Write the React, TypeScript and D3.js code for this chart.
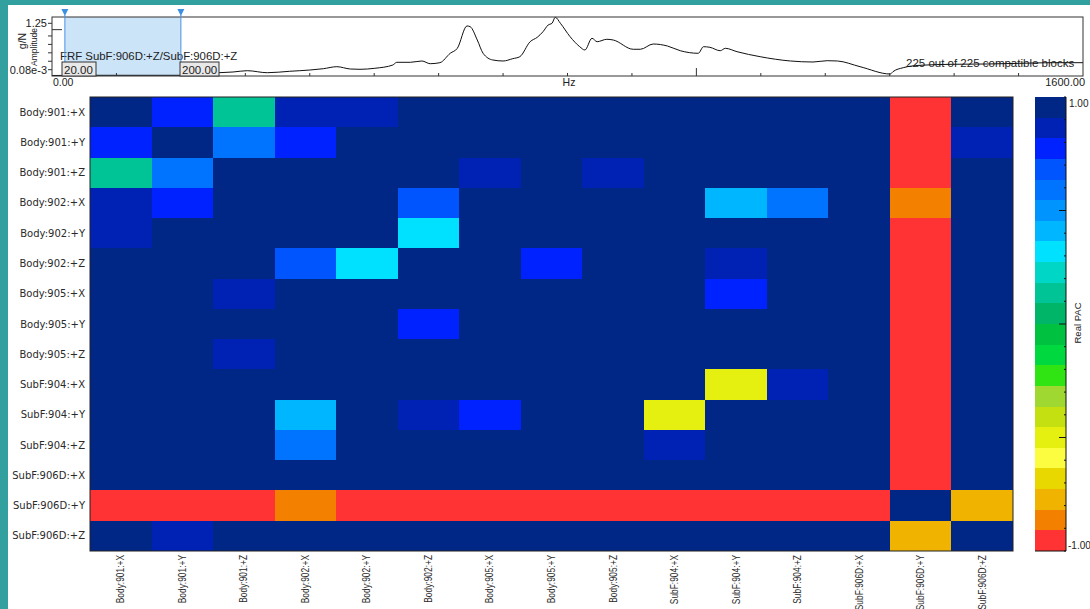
import React from 'react';
import * as d3 from 'd3';

// ---- data ----
const rowLabels = [
  'Body:901:+X', 'Body:901:+Y', 'Body:901:+Z',
  'Body:902:+X', 'Body:902:+Y', 'Body:902:+Z',
  'Body:905:+X', 'Body:905:+Y', 'Body:905:+Z',
  'SubF:904:+X', 'SubF:904:+Y', 'SubF:904:+Z',
  'SubF:906D:+X', 'SubF:906D:+Y', 'SubF:906D:+Z',
];
const colLabels = rowLabels;

// Real PAC values read from the cells
const N = 0.97, D = 0.86, B = 0.77, B4 = 0.66, B5 = 0.58, C7 = 0.38, C8 = 0.31, T = 0.14;
const Y = -0.5, G = -0.79, O = -0.88, R = -0.97;
const pacValues = [
  [N, B, T, D, D, N, N, N, N, N, N, N, N, R, N],
  [B, N, B5, B, N, N, N, N, N, N, N, N, N, R, D],
  [T, B5, N, N, N, N, D, N, D, N, N, N, N, R, N],
  [D, B, N, N, N, B4, N, N, N, N, C7, B5, N, O, N],
  [D, N, N, N, N, C8, N, N, N, N, N, N, N, R, N],
  [N, N, N, B4, C8, N, N, B, N, N, D, N, N, R, N],
  [N, N, D, N, N, N, N, N, N, N, B, N, N, R, N],
  [N, N, N, N, N, B, N, N, N, N, N, N, N, R, N],
  [N, N, D, N, N, N, N, N, N, N, N, N, N, R, N],
  [N, N, N, N, N, N, N, N, N, N, Y, D, N, R, N],
  [N, N, N, C7, N, D, B, N, N, Y, N, N, N, R, N],
  [N, N, N, B5, N, N, N, N, N, D, N, N, N, R, N],
  [N, N, N, N, N, N, N, N, N, N, N, N, N, R, N],
  [R, R, R, O, R, R, R, R, R, R, R, R, R, N, G],
  [N, D, N, N, N, N, N, N, N, N, N, N, N, G, N],
];

// colour bands, from +1 (top) down to -1
const bandColors = [
  '#002785', '#0022b4', '#0022ff', '#0055ff', '#0074ff', '#0094ff', '#00b6ff', '#00e0ff',
  '#00d6c6', '#00c496', '#00b468', '#00c240', '#00d840', '#30e414', '#9ed830', '#c4e010',
  '#e6f010', '#fcfc40', '#e8d800', '#f0b400', '#f48000', '#ff3333',
];

// FRF trace (Hz, amplitude)
const frfFreq = [0, 68, 199, 259, 281, 303, 334, 369, 400, 421, 442, 463, 478, 501, 529, 535, 556, 574, 587,
  602, 618, 629, 644, 649, 660, 669, 684, 700, 715, 726, 742, 753, 762, 770, 776, 781, 789, 804, 819, 827,
  838, 846, 861, 871, 902, 913, 933, 955, 975, 1003, 1011, 1021, 1037, 1045, 1063, 1099, 1146, 1181, 1203,
  1219, 1254, 1301, 1305, 1321, 1347, 1398, 1451, 1502, 1553, 1600];
const frfAmp = [0.012, 0.017, 0.017, 0.078, 0.095, 0.126, 0.078, 0.112, 0.142, 0.173, 0.221, 0.166, 0.159,
  0.183, 0.261, 0.325, 0.325, 0.356, 0.292, 0.316, 0.539, 0.657, 1.187, 1.17, 0.854, 0.539, 0.38, 0.356,
  0.411, 0.458, 0.814, 0.918, 1.051, 1.21, 1.251, 1.393, 1.251, 0.933, 0.695, 0.617, 0.895, 0.814, 0.871,
  0.854, 0.634, 0.634, 0.759, 0.712, 0.6, 0.539, 0.695, 0.681, 0.6, 0.657, 0.577, 0.458, 0.356, 0.332,
  0.363, 0.356, 0.221, 0.047, 0.102, 0.197, 0.254, 0.278, 0.285, 0.301, 0.316, 0.316];
const freqTicks = d3.range(100, 1600, 100);
const ampMinorTicks = [1.25, 0.95, 0.75, 0.55, 0.35, 0.15];
const cursorFreqs = [20, 200];
const cbTicks = d3.range(-10, 11).map(d => d / 10);

const W = 1090;
const H = 609;
const sans = 'Liberation Sans, Arial, sans-serif';

export default function App() {
  // top spectrum panel
  const fx = d3.scaleLinear().domain([0, 1600]).range([52, 1083]);
  const fy = d3.scaleLinear().domain([0, 1.4]).range([76, 17]);
  const line = d3.line<number>()
    .x((_, i) => fx(frfFreq[i]))
    .y(d => fy(d))
    .curve(d3.curveMonotoneX);

  // heatmap
  const x = d3.scaleBand().domain(colLabels).range([90, 1013]);
  const y = d3.scaleBand().domain(rowLabels).range([97, 551]);
  const color = d3.scaleQuantize<string>().domain([-1, 1]).range([...bandColors].reverse());

  // colour bar
  const cb = d3.scaleLinear().domain([1, -1]).range([97, 551]);
  const step = 2 / bandColors.length;

  return (
    <svg width={W} height={H} style={{ position: 'absolute', left: 0, top: 0 }} fontFamily={sans}>
      <rect x={0} y={0} width={W} height={H} fill="#31a09e" />
      <rect x={8} y={5} width={W - 8} height={H - 5} fill="#fff" />

      {/* spectrum */}
      <rect x={fx(cursorFreqs[0])} y={17} width={fx(cursorFreqs[1]) - fx(cursorFreqs[0])} height={59} fill="#cce4f8" />
      <text x={906} y={67} fontSize={11.5} fill="#222">225 out of 225 compatible blocks</text>
      <path d={line(frfAmp) || ''} fill="none" stroke="#111" strokeWidth={1} />
      <rect x={52} y={17} width={1031} height={59} fill="none" stroke="#333" strokeWidth={1} />
      {freqTicks.map(f => (
        <line key={f} x1={fx(f)} x2={fx(f)} y1={76} y2={f === 1000 ? 68 : 73} stroke="#333" />
      ))}
      {ampMinorTicks.map(a => (
        <line key={a} x1={48} x2={52} y1={fy(a)} y2={fy(a)} stroke="#333" />
      ))}
      <line x1={52} x2={62} y1={fy(1.1)} y2={fy(1.1)} stroke="#333" />
      <text x={47} y={27} fontSize={11} textAnchor="end" fill="#222">1.25</text>
      <text x={47} y={74} fontSize={11} textAnchor="end" fill="#222">0.08e-3</text>
      <text transform="translate(26,41) rotate(-90)" fontSize={10.5} textAnchor="middle" fill="#222">g/N</text>
      <text transform="translate(37,47) rotate(-90)" fontSize={8.5} textAnchor="middle" fill="#222">Amplitude</text>
      <text x={60} y={60} fontSize={11.4} fill="#222">FRF SubF:906D:+Z/SubF:906D:+Z</text>
      {cursorFreqs.map(f => (
        <g key={f}>
          <line x1={fx(f)} x2={fx(f)} y1={15} y2={76} stroke="#4a90e2" strokeWidth={1} />
          <path d={`M${fx(f) - 3.5},9 L${fx(f) + 3.5},9 L${fx(f)},16 Z`} fill="#3d8fe0" />
        </g>
      ))}
      <rect x={62} y={62} width={34} height={14} fill="#e8e8e8" stroke="#333" />
      <text x={64} y={74} fontSize={11.5} fill="#222">20.00</text>
      <rect x={180} y={62} width={39} height={14} fill="#e8e8e8" stroke="#333" />
      <text x={182} y={74} fontSize={11.5} fill="#222">200.00</text>
      <text x={53} y={86} fontSize={10.5} fill="#222">0.00</text>
      <text x={569} y={86} fontSize={10.5} textAnchor="middle" fill="#222">Hz</text>
      <text x={1085} y={86} fontSize={11} textAnchor="end" fill="#222">1600.00</text>

      {/* heatmap cells */}
      <g shapeRendering="crispEdges">
        {pacValues.map((row, ri) =>
          row.map((v, ci) => {
            const x0 = Math.round(x(colLabels[ci]) || 0);
            const x1 = Math.round((x(colLabels[ci]) || 0) + x.bandwidth());
            const y0 = Math.round(y(rowLabels[ri]) || 0);
            const y1 = Math.round((y(rowLabels[ri]) || 0) + y.bandwidth());
            return <rect key={`${ri}-${ci}`} x={x0} y={y0} width={x1 - x0} height={y1 - y0} fill={color(v)} />;
          })
        )}
      </g>
      <rect x={90} y={97} width={923} height={454} fill="none" stroke="#222" strokeWidth={1} />

      {rowLabels.map(r => (
        <text key={r} x={85} y={(y(r) || 0) + y.bandwidth() / 2} dy="0.35em" textAnchor="end"
          fontSize={10} fontFamily="DejaVu Sans, Verdana, sans-serif" fill="#2a2a2a">{r}</text>
      ))}
      {colLabels.map(c => (
        <text key={c} transform={`translate(${(x(c) || 0) + x.bandwidth() / 2 + 3.5},555) rotate(-90) scale(0.84,1)`}
          textAnchor="end" fontSize={10} fill="#2a2a2a">{c}</text>
      ))}

      {/* colour bar */}
      <g shapeRendering="crispEdges">
        {bandColors.map((c, i) => {
          const y0 = Math.round(cb(1 - i * step));
          const y1 = Math.round(cb(1 - (i + 1) * step));
          return <rect key={c + i} x={1035} y={y0} width={31} height={y1 - y0} fill={c} />;
        })}
      </g>
      <line x1={1066} x2={1066} y1={97} y2={551} stroke="#111" />
      <line x1={1035} x2={1066} y1={551} y2={551} stroke="#111" />
      {cbTicks.map(t => {
        const major = Math.abs(t) < 1e-9 || Math.abs(Math.abs(t) - 0.5) < 1e-9;
        return <line key={t} x1={major ? 1059 : 1064} x2={1066} y1={cb(t)} y2={cb(t)} stroke="#111" />;
      })}
      <text x={1069} y={107} fontSize={10} fill="#222">1.00</text>
      <text x={1068} y={549} fontSize={10} fill="#222">-1.00</text>
      <text transform="translate(1081,323) rotate(-90)" fontSize={9.5} textAnchor="middle" fill="#222">Real PAC</text>
    </svg>
  );
}
